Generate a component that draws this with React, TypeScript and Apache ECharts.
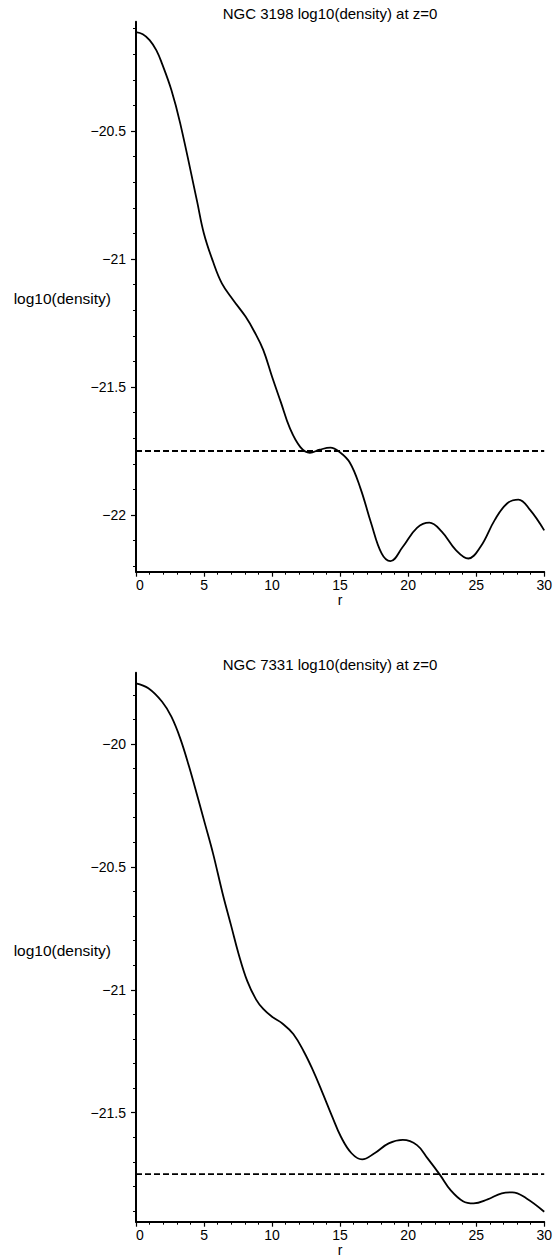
import React, { useEffect, useRef } from "react";
import * as echarts from "echarts";

// NGC 3198 profile
const R_3198 = [0, 0.5, 1.0, 1.5, 1.92, 2.6, 3.25, 4.47, 4.99, 5.66, 6.31, 7.14, 8.05, 8.7, 9.35, 10.0, 10.65, 11.3, 12.08, 12.78, 13.5, 14.29, 14.94, 15.71, 16.49, 17.27, 18.05, 18.7, 19.61, 20.65, 21.56, 22.47, 23.51, 24.42, 25.32, 26.36, 27.27, 28.1, 28.96, 30];
const D_3198 = [-20.114, -20.122, -20.145, -20.185, -20.238, -20.34, -20.47, -20.77, -20.9, -21.01, -21.095, -21.16, -21.225, -21.284, -21.355, -21.46, -21.56, -21.66, -21.735, -21.757, -21.745, -21.737, -21.753, -21.795, -21.895, -22.03, -22.15, -22.18, -22.124, -22.05, -22.03, -22.065, -22.137, -22.17, -22.124, -22.02, -21.955, -21.94, -21.98, -22.06];

// NGC 7331 profile
const R_7331 = [0, 0.91, 1.92, 2.6, 3.25, 3.9, 4.55, 5.06, 5.66, 6.36, 7.01, 7.53, 8.18, 8.83, 9.35, 10.0, 10.78, 11.56, 12.34, 12.99, 13.64, 14.42, 15.06, 15.84, 16.62, 17.53, 18.57, 19.61, 20.65, 21.43, 22.34, 23.12, 24.03, 24.81, 25.84, 26.88, 27.66, 28.7, 30];
const D_7331 = [-19.753, -19.773, -19.828, -19.889, -19.977, -20.092, -20.22, -20.323, -20.445, -20.607, -20.743, -20.852, -20.965, -21.04, -21.078, -21.11, -21.138, -21.18, -21.252, -21.326, -21.41, -21.516, -21.598, -21.665, -21.69, -21.665, -21.625, -21.611, -21.632, -21.686, -21.753, -21.815, -21.86, -21.869, -21.853, -21.828, -21.824, -21.849, -21.903];

const THRESHOLD = -21.75;
const R_RANGE = [0, 30];

const TITLES = ["NGC 3198 log10(density) at z=0", "NGC 7331 log10(density) at z=0"];
const Y_NAME = "log10(density)";
const X_NAME = "r";

const Y_RANGE_1 = [-22.2215, -20.073];
const Y_RANGE_2 = [-21.9435, -19.71];
const MAJOR_1 = [-20.5, -21, -21.5, -22];
const MINOR_1 = [-20.1, -20.2, -20.3, -20.4, -20.6, -20.7, -20.8, -20.9, -21.1, -21.2, -21.3, -21.4, -21.6, -21.7, -21.8, -21.9, -22.1, -22.2];
const MAJOR_2 = [-20, -20.5, -21, -21.5];
const MINOR_2 = [-19.8, -19.9, -20.1, -20.2, -20.3, -20.4, -20.6, -20.7, -20.8, -20.9, -21.1, -21.2, -21.3, -21.4, -21.6, -21.7, -21.8, -21.9];

const FONT = '"Liberation Sans", Arial, Helvetica, sans-serif';

function fmt(v: number) {
  return v < 0 ? "\u2212" + String(Math.abs(v)) : String(v);
}

export default function App() {
  const ref = useRef<HTMLDivElement>(null);
  useEffect(() => {
    document.body.style.margin = "0";
    const chart = echarts.init(ref.current!, null, { renderer: "svg" });
    const grids = [
      { left: 136, top: 21.7, width: 410, height: 550 },
      { left: 136, top: 672.7, width: 410, height: 549 },
    ];
    const yRanges = [Y_RANGE_1, Y_RANGE_2];
    const majors = [MAJOR_1, MAJOR_2];
    const minors = [MINOR_1, MINOR_2];
    const lineStyle = { color: "#000", width: 2 };

    const xAxis: any[] = [0, 1].map((g) => ({
      type: "value",
      gridIndex: g,
      min: R_RANGE[0],
      max: R_RANGE[1],
      interval: 5,
      name: X_NAME,
      nameLocation: "middle",
      nameGap: 17,
      nameTextStyle: { color: "#000", fontSize: 14, fontFamily: FONT },
      axisLine: { show: true, onZero: false, lineStyle },
      axisTick: { show: true, length: 5, lineStyle: { color: "#000", width: 1.2 } },
      minorTick: { show: true, splitNumber: 5, length: 3, lineStyle: { color: "#000", width: 1 } },
      splitLine: { show: false },
      axisLabel: { color: "#000", fontSize: 14, fontFamily: FONT, margin: 6, alignMinLabel: "left" },
    }));

    const yAxis: any[] = [];
    [0, 1].forEach((g) => {
      yAxis.push({
        type: "value",
        gridIndex: g,
        min: yRanges[g][0],
        max: yRanges[g][1],
        axisLine: { show: true, onZero: false, lineStyle },
        axisTick: { show: true, length: 5, customValues: majors[g], lineStyle: { color: "#000", width: 1.2 } },
        axisLabel: { show: true, customValues: majors[g], formatter: fmt, color: "#000", fontSize: 14, fontFamily: FONT, margin: 10 },
        splitLine: { show: false },
      });
      yAxis.push({
        type: "value",
        gridIndex: g,
        position: "left",
        min: yRanges[g][0],
        max: yRanges[g][1],
        axisLine: { show: false },
        axisTick: { show: true, length: 3, customValues: minors[g], lineStyle: { color: "#000", width: 1 } },
        axisLabel: { show: false },
        splitLine: { show: false },
      });
    });

    const curves = [
      R_3198.map((r, i) => [r, D_3198[i]]),
      R_7331.map((r, i) => [r, D_7331[i]]),
    ];

    const series: any[] = [];
    [0, 1].forEach((g) => {
      series.push({
        type: "line",
        xAxisIndex: g,
        yAxisIndex: g * 2,
        data: curves[g],
        smooth: 0.4,
        symbol: "none",
        lineStyle: { color: "#000", width: 1.8 },
        silent: true,
      });
      series.push({
        type: "line",
        xAxisIndex: g,
        yAxisIndex: g * 2,
        data: [[R_RANGE[0], THRESHOLD], [R_RANGE[1], THRESHOLD]],
        symbol: "none",
        lineStyle: { color: "#000", width: 1.8, type: [6, 3] },
        silent: true,
      });
    });

    const titleY = [13.3, 664];
    const labelY = [298, 950];
    const graphic: any[] = [];
    [0, 1].forEach((g) => {
      graphic.push({
        type: "text",
        x: 330,
        y: titleY[g],
        style: { text: TITLES[g], fill: "#000", fontSize: 15, fontFamily: FONT, align: "center", verticalAlign: "middle" },
      });
      graphic.push({
        type: "text",
        x: 111,
        y: labelY[g],
        style: { text: Y_NAME, fill: "#000", fontSize: 15.5, fontFamily: FONT, align: "right", verticalAlign: "middle" },
      });
    });

    chart.setOption({
      animation: false,
      backgroundColor: "#fff",
      grid: grids,
      xAxis,
      yAxis,
      series,
      graphic,
    });
    return () => chart.dispose();
  }, []);
  return <div ref={ref} style={{ width: 555, height: 1258, position: "absolute", left: 0, top: 0 }} />;
}
